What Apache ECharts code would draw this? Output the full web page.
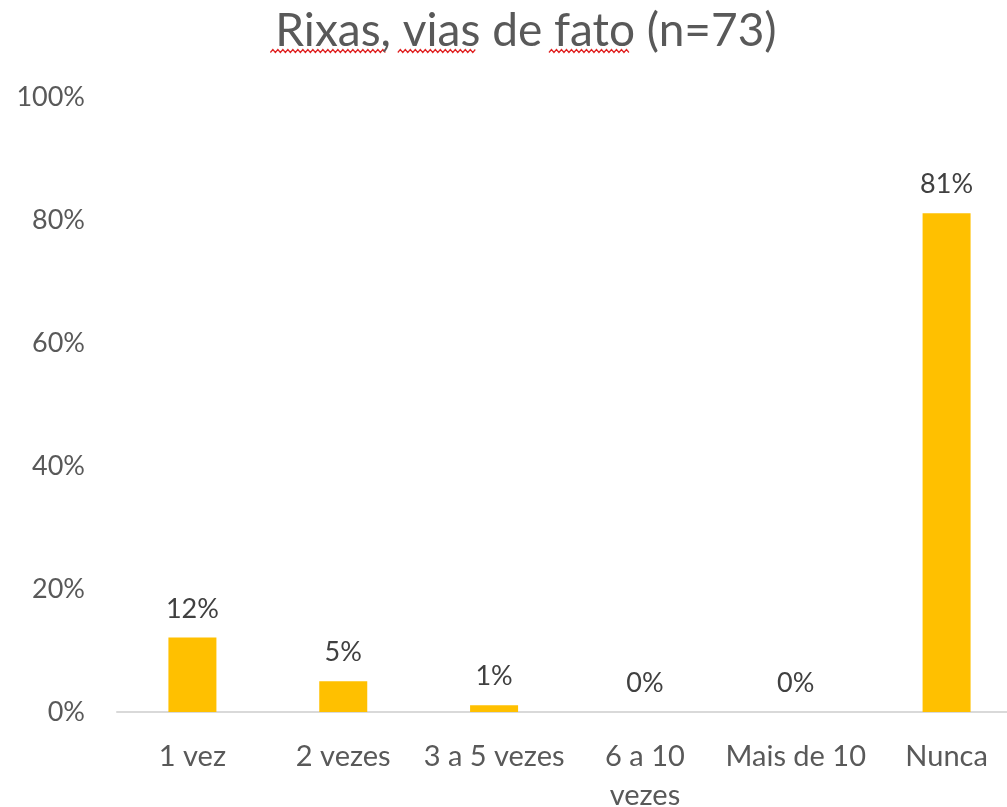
<!DOCTYPE html>
<html>
<head>
<meta charset="utf-8">
<script src="https://cdn.jsdelivr.net/npm/echarts@6/dist/echarts.min.js"></script>
<style>
  html, body { margin: 0; padding: 0; background: #fff; }
  #chart { width: 1007px; height: 807px; }
</style>
</head>
<body>
<div id="chart"></div>
<script>
var categories = ['1 vez', '2 vezes', '3 a 5 vezes', '6 a 10\nvezes', 'Mais de 10', 'Nunca'];
var percentages = [12.1, 5.0, 1.1, 0, 0, 81.1];
var yTicks = [0, 20, 40, 60, 80, 100];
var titleText = 'Rixas, vias de fato (n=73)';
var flaggedWords = ['Rixas,', 'vias', 'fato'];

var FONT = 'Lato, "Open Sans", sans-serif';
var TITLE_SIZE = 46;
var TITLE_CENTER = 521;
var TITLE_TOP = 3;

// spell-check squiggles under some words of the title (as in the source image)
function squiggles() {
  var ctx = document.createElement('canvas').getContext('2d');
  ctx.font = TITLE_SIZE + 'px ' + FONT;
  var full = ctx.measureText(titleText).width;
  var x0 = TITLE_CENTER - full / 2;
  var out = [];
  var from = 0;
  flaggedWords.forEach(function (w) {
    var idx = titleText.indexOf(w, from);
    from = idx + w.length;
    var sx = x0 + ctx.measureText(titleText.slice(0, idx)).width;
    var ex = sx + ctx.measureText(w).width;
    var pts = [];
    var up = false;
    for (var x = sx; x <= ex; x += 2.5) {
      pts.push([x, up ? 49.5 : 52.5]);
      up = !up;
    }
    out.push({
      type: 'polyline',
      shape: { points: pts },
      style: { stroke: '#e02020', lineWidth: 1.2, fill: null }
    });
  });
  return out;
}

var myChart = echarts.init(document.getElementById('chart'));
myChart.setOption({
  backgroundColor: '#fff',
  animation: false,
  title: {
    text: titleText,
    left: TITLE_CENTER,
    textAlign: 'center',
    top: TITLE_TOP,
    textStyle: { fontFamily: FONT, fontSize: TITLE_SIZE, fontWeight: 'normal', color: '#595959' }
  },
  grid: { left: 117, right: -15, top: 97, bottom: 95, outerBoundsMode: 'none' },
  xAxis: {
    type: 'category',
    data: categories,
    axisLine: { lineStyle: { color: '#d9d9d9', width: 2 } },
    axisTick: { show: false },
    axisLabel: {
      interval: 0, margin: 25, fontFamily: FONT, fontSize: 29,
      color: '#595959', lineHeight: 39
    }
  },
  yAxis: {
    type: 'value',
    min: yTicks[0],
    max: yTicks[yTicks.length - 1],
    interval: 20,
    splitLine: { show: false },
    axisLine: { show: false },
    axisTick: { show: false },
    axisLabel: {
      margin: 32, fontFamily: FONT, fontSize: 27, color: '#595959',
      formatter: '{value}%'
    }
  },
  series: [{
    type: 'bar',
    data: percentages,
    barWidth: 48,
    itemStyle: { color: '#FFC000' },
    label: {
      show: true,
      position: 'top',
      distance: 15,
      fontFamily: FONT,
      fontSize: 27,
      color: '#404040',
      formatter: function (p) { return Math.round(p.value) + '%'; }
    }
  }],
  graphic: squiggles()
});
</script>
</body>
</html>
